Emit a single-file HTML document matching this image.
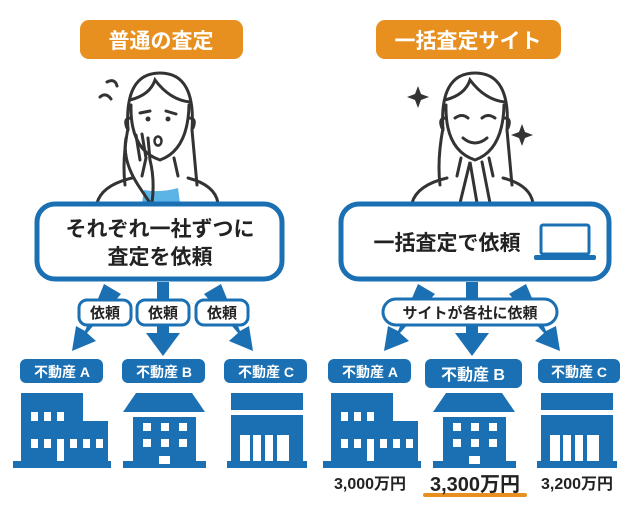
<!DOCTYPE html>
<html><head><meta charset="utf-8"><style>
body{margin:0;width:640px;height:507px;background:#fff;overflow:hidden;font-family:"Liberation Sans","Noto Sans CJK JP",sans-serif}
</style></head><body>
<svg width="640" height="507" viewBox="0 0 640 507" xmlns="http://www.w3.org/2000/svg" font-family="Liberation Sans, Noto Sans CJK JP, sans-serif" font-weight="bold">
<defs>
<g id="bA" fill="#1a70b3"><rect x="0" y="0" width="62" height="70"/><rect x="62" y="28" width="25" height="42"/><rect x="-8" y="68" width="98" height="7"/>
<g fill="#fff"><rect x="10" y="19" width="7" height="9"/><rect x="23" y="19" width="7" height="9"/><rect x="36" y="19" width="7" height="9"/><rect x="10" y="46" width="7" height="9"/><rect x="23" y="46" width="7" height="9"/><rect x="36" y="46" width="7" height="22"/><rect x="49" y="46" width="7" height="9"/><rect x="62" y="46" width="7" height="9"/><rect x="75" y="46" width="7" height="9"/></g></g>
<g id="bB" fill="#1a70b3"><polygon points="12,0 68,0 81,19 -1,19"/><rect x="9" y="24" width="63" height="48"/><rect x="-1" y="68" width="83" height="7"/>
<g fill="#fff"><rect x="19" y="30" width="8" height="8"/><rect x="37" y="30" width="8" height="8"/><rect x="55" y="30" width="8" height="8"/><rect x="19" y="46" width="8" height="8"/><rect x="37" y="46" width="8" height="8"/><rect x="55" y="46" width="8" height="8"/><rect x="35" y="63" width="11" height="8"/></g></g>
<g id="bC" fill="#1a70b3"><rect x="3" y="0" width="72" height="17"/><rect x="3" y="22" width="72" height="50"/><rect x="-1" y="68" width="80" height="7"/>
<g fill="#fff"><rect x="12" y="42" width="10" height="26"/><rect x="25" y="42" width="8" height="26"/><rect x="37" y="42" width="8" height="26"/><rect x="49" y="42" width="12" height="26"/></g></g>
<g id="woman" fill="none" stroke="#333" stroke-width="3" stroke-linecap="round">
<path d="M-32 130 Q-36 73 0 73 Q36 73 32 130 L37 185"/>
<path d="M-32 128 Q-38 160 -35 185"/>
<path d="M-30 100 Q-10 95 -5 80 Q10 100 30 102"/>
<path d="M-29 105 Q-30 150 0 160 Q28 150 29 105"/>
<path d="M-29 118 Q-37 118 -33 128 M29 118 Q37 118 33 128"/>
<path d="M-63 203 Q-58 185 -28 178 M28 178 Q55 185 58 203"/>
<path d="M-14 158 L-18 176 M14 158 L18 176"/>
</g>
</defs>
<!-- orange headers -->
<rect x="80" y="20" width="163" height="39" rx="9" fill="#e8901f"/>
<text x="161" y="48" font-size="21" fill="#fff" text-anchor="middle">普通の査定</text>
<rect x="376" y="20" width="185" height="39" rx="9" fill="#e8901f"/>
<text x="468" y="48" font-size="21" fill="#fff" text-anchor="middle">一括査定サイト</text>
<!-- left woman -->
<use href="#woman" x="160"/>
<path d="M142 203 L144 190 Q160 193 178 188 L180 203Z" fill="#5cb3e5"/>
<g fill="none" stroke="#333" stroke-width="3" stroke-linecap="round">
<path d="M126 138 Q122 160 138 185 L150 203 M136 135 L140 160 M142 134 L146 158 M148 138 L150 160 M150 160 Q155 180 152 203"/>
<path d="M107 82 Q115 78 117 86 M100 97 Q106 92 111 99"/>
<path d="M140 113 L150 111 M166 111 L176 114"/>
</g>
<circle cx="148" cy="119" r="2.5" fill="#333"/><circle cx="168" cy="119" r="2.5" fill="#333"/>
<ellipse cx="158" cy="141" rx="3.5" ry="4.5" fill="none" stroke="#333" stroke-width="2.5"/>
<!-- right woman -->
<use href="#woman" x="475"/>
<g fill="none" stroke="#333" stroke-width="3" stroke-linecap="round">
<path d="M460 203 L470 162 L477 203 M490 203 L482 162"/>
<path d="M463 138 Q475 148 487 138"/>
<path d="M455 118 Q462 113 468 118 M482 118 Q488 113 495 118"/>
</g>
<path d="M418 86 l3 8 l8 3 l-8 3 l-3 8 l-3 -8 l-8 -3 l8 -3z" fill="#333"/>
<path d="M522 124 l3 8 l8 3 l-8 3 l-3 8 l-3 -8 l-8 -3 l8 -3z" fill="#333"/>
<!-- arrows -->
<g fill="#1a70b3">
<polygon points="104,284 121,294 87,333 96,341 72,351 76,326 85,331"/>
<polygon points="157,282 169,282 169,333 180,333 163,356 146,333 157,333"/>
<polygon points="221,284 204,294 238,333 229,341 253,351 249,326 240,331"/>
<polygon points="418,284 435,294 400,333 409,341 384,351 388,326 398,331"/>
<polygon points="466,282 478,282 478,333 489,333 472,356 455,333 466,333"/>
<polygon points="526,284 509,294 544,333 535,341 560,351 556,326 546,331"/>
</g>
<!-- big boxes -->
<rect x="37" y="204" width="245" height="75" rx="18" fill="#fff" stroke="#1a70b3" stroke-width="5"/>
<text x="160" y="236" font-size="21" fill="#222" text-anchor="middle">それぞれ一社ずつに</text>
<text x="160" y="264" font-size="21" fill="#222" text-anchor="middle">査定を依頼</text>
<rect x="341" y="204" width="268" height="75" rx="18" fill="#fff" stroke="#1a70b3" stroke-width="5"/>
<text x="447" y="250" font-size="21" fill="#222" text-anchor="middle">一括査定で依頼</text>
<rect x="541" y="225" width="48" height="29" rx="2" fill="none" stroke="#1a70b3" stroke-width="3"/>
<rect x="534" y="255" width="62" height="5" rx="2" fill="#1a70b3"/>
<!-- small pills -->
<g fill="#fff" stroke="#1a70b3" stroke-width="3">
<rect x="79" y="300" width="52" height="25" rx="8"/><rect x="137" y="300" width="52" height="25" rx="8"/><rect x="196" y="300" width="52" height="25" rx="8"/>
<rect x="383" y="299" width="174" height="26" rx="13"/>
</g>
<g font-size="15" fill="#222" text-anchor="middle">
<text x="105" y="318">依頼</text><text x="163" y="318">依頼</text><text x="222" y="318">依頼</text>
<text x="470" y="318">サイトが各社に依頼</text>
</g>
<!-- fudousan labels -->
<g fill="#1a70b3">
<rect x="20" y="359" width="83" height="24" rx="6"/><rect x="122" y="359" width="83" height="24" rx="6"/><rect x="224" y="359" width="83" height="24" rx="6"/>
<rect x="328" y="359" width="83" height="24" rx="6"/><rect x="425" y="359" width="97" height="29" rx="6"/><rect x="538" y="359" width="82" height="24" rx="6"/>
</g>
<g font-size="14" fill="#fff" text-anchor="middle">
<text x="62" y="377">不動産 A</text><text x="164" y="377">不動産 B</text><text x="266" y="377">不動産 C</text>
<text x="370" y="377">不動産 A</text><text x="579" y="377">不動産 C</text>
<text x="473" y="380" font-size="16">不動産 B</text>
</g>
<!-- buildings -->
<use href="#bA" x="21" y="393"/><use href="#bB" x="124" y="393"/><use href="#bC" x="228" y="393"/>
<use href="#bA" x="331" y="393"/><use href="#bB" x="434" y="393"/><use href="#bC" x="538" y="393"/>
<!-- prices -->
<rect x="423" y="493" width="104" height="4" rx="2" fill="#e8901f"/>
<g fill="#222" text-anchor="middle">
<text x="370" y="489" font-size="16">3,000万円</text>
<text x="475" y="491" font-size="20">3,300万円</text>
<text x="577" y="489" font-size="16">3,200万円</text>
</g>
</svg>
</body></html>
